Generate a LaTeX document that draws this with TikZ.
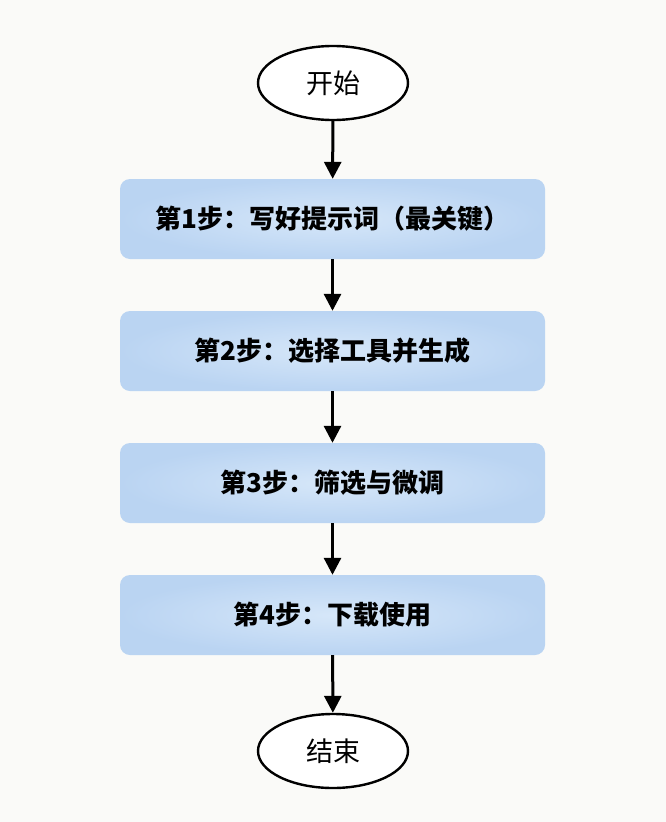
\documentclass[tikz,border=0pt]{standalone}
\usepackage{fontspec}
\newfontfamily\cjk{Noto Sans CJK SC}
\usepackage{tikz}
\usetikzlibrary{shapes,arrows.meta}
\definecolor{bgpaper}{RGB}{250,250,248}
\definecolor{boxin}{RGB}{214,231,249}
\definecolor{boxout}{RGB}{186,212,242}
\tikzset{
	stepbox/.style={rectangle,rounded corners=10pt,minimum width=425pt,minimum height=80pt,
		inner color=boxin,outer color=boxout,font=\cjk\bfseries\fontsize{26}{30}\selectfont},
	endnode/.style={ellipse,draw=black,line width=2.4pt,fill=white,minimum width=150pt,
		minimum height=74pt,inner sep=0pt,font=\cjk\fontsize{27}{30}\selectfont},
	flow/.style={line width=3pt,-{Triangle[length=17pt,width=17pt]}}
}
\begin{document}
\begin{tikzpicture}[x=1pt,y=-1pt,line cap=butt]
	\fill[bgpaper] (0,0) rectangle (666,822);
	\useasboundingbox (0,0) rectangle (666,822);
	% start / end
	\node[endnode] (start) at (333,83) {开始};
	\node[endnode] (finish) at (333,751) {结束};
	% steps
	\node[stepbox] (s1) at (332.5,219) {第1步：写好提示词（最关键）};
	\node[stepbox] (s2) at (332.5,351) {第2步：选择工具并生成};
	\node[stepbox] (s3) at (332.5,483) {第3步：筛选与微调};
	\node[stepbox] (s4) at (332.5,615) {第4步：下载使用};
	% arrows
	\draw[flow] (start) -- (s1);
	\draw[flow] (s1) -- (s2);
	\draw[flow] (s2) -- (s3);
	\draw[flow] (s3) -- (s4);
	\draw[flow] (s4) -- (finish);
\end{tikzpicture}
\end{document}
